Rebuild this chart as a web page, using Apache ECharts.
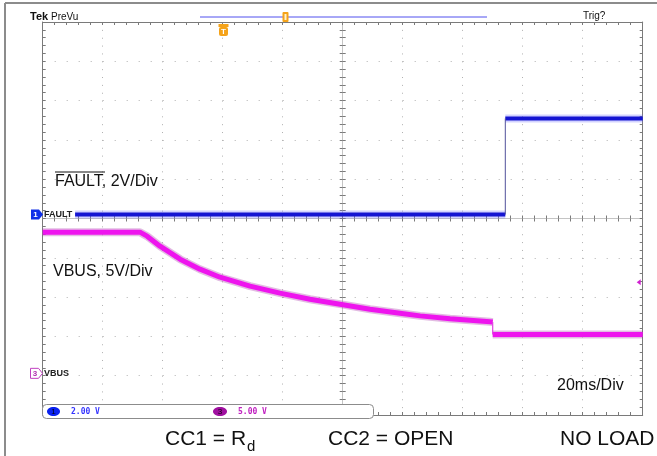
<!DOCTYPE html>
<html><head><meta charset="utf-8">
<script src="https://cdn.jsdelivr.net/npm/echarts@6/dist/echarts.min.js"></script>
<style>html,body{margin:0;padding:0;background:#fff}#c{width:657px;height:456px}</style>
</head><body><div id="c"></div>
<script>
// ---- data (time in ms, values in volts) ----
const faultTime  = [10.8, 154.2, 154.2, 200];
const faultVolts = [0.0, 0.0, 4.89, 4.89];
const vbusTime  = [0, 32.4, 34.8, 39.1, 45.8, 52.4, 59.1, 69.1, 79.1, 89.1, 99.1, 109.1, 119.1, 125.8, 135.8, 149.1, 150.0, 150.0, 200];
const vbusVolts = [17.96, 17.96, 17.45, 16.18, 14.52, 13.25, 12.23, 11.09, 10.2, 9.43, 8.8, 8.16, 7.65, 7.31, 6.95, 6.57, 6.52, 4.94, 4.94];
const faultVoltsPerDiv = 2;
const vbusVoltsPerDiv = 5;
const faultGroundDiv = 0.1;
const vbusGroundDiv = -3.94;
const trigLevelVolts = 11.6;
const timeDivs = [0, 200, 20];   // 20 ms/div, 10 divisions
const vertDivs = [-5, 5, 1];

const FONT = '"Liberation Sans", Arial, Helvetica, sans-serif';
const MONO = '"DejaVu Sans Mono", "Liberation Mono", monospace';
function toDiv(v, off, sc) { return off + v / sc; }
function buildTrace(ts, vs, off, sc) {
  const band = [], edges = [];
  for (let i = 0; i < ts.length; i++) {
    const y = toDiv(vs[i], off, sc);
    if (i > 0 && ts[i] === ts[i - 1]) {
      band.push([ts[i], '-']);
      edges.push([ts[i - 1], toDiv(vs[i - 1], off, sc)], [ts[i], y]);
    }
    band.push([ts[i], y]);
  }
  return { band, edges };
}
const fault = buildTrace(faultTime, faultVolts, faultGroundDiv, faultVoltsPerDiv);
const vbus = buildTrace(vbusTime, vbusVolts, vbusGroundDiv, vbusVoltsPerDiv);

const edgeCol = '#7a7a7a';
function xAx(extra) {
  return Object.assign({
    type: 'value', min: timeDivs[0], max: timeDivs[1], interval: timeDivs[2],
    axisLabel: { show: false }, splitLine: { show: false },
    axisLine: { show: true, onZero: false, lineStyle: { color: edgeCol, width: 1 } },
    axisTick: { show: true, inside: true, length: 3, lineStyle: { color: edgeCol } },
    minorTick: { show: true, splitNumber: 5, length: 3, lineStyle: { color: edgeCol } }
  }, extra);
}
function yAx(extra) {
  return Object.assign({
    type: 'value', min: vertDivs[0], max: vertDivs[1], interval: vertDivs[2],
    axisLabel: { show: false }, splitLine: { show: false },
    axisLine: { show: true, onZero: false, lineStyle: { color: edgeCol, width: 1 } },
    axisTick: { show: true, inside: true, length: 3, lineStyle: { color: edgeCol } },
    minorTick: { show: true, splitNumber: 5, length: 3, lineStyle: { color: edgeCol } }
  }, extra);
}
const centerLine = { color: '#c4c4c4', width: 1 };

const chart = echarts.init(document.getElementById('c'), null, { renderer: 'canvas' });
const option = {
  animation: false,
  backgroundColor: '#fff',
  grid: { left: 42.7, top: 22, width: 600, height: 393 },
  xAxis: [
    xAx({ position: 'bottom', splitLine: { show: true, lineStyle: { color: '#b0b0b0', width: 1, type: [1, 6.86] } } }),
    xAx({ position: 'top' }),
    xAx({ position: 'bottom', axisLine: { show: true, onZero: true, onZeroAxisIndex: 0, lineStyle: centerLine } }),
    xAx({ position: 'bottom', axisLine: { show: true, onZero: true, onZeroAxisIndex: 0, lineStyle: centerLine },
          axisTick: { show: true, inside: false, length: 3, lineStyle: { color: edgeCol } } }),
    { type: 'value', min: -100, max: 100, show: false }
  ],
  yAxis: [
    yAx({ position: 'left', splitLine: { show: true, lineStyle: { color: '#b0b0b0', width: 1, type: [1, 11] } } }),
    yAx({ position: 'right' }),
    yAx({ position: 'left', axisLine: { show: true, onZero: true, onZeroAxisIndex: 4, lineStyle: centerLine } }),
    yAx({ position: 'left', axisLine: { show: true, onZero: true, onZeroAxisIndex: 4, lineStyle: centerLine },
          axisTick: { show: true, inside: false, length: 3, lineStyle: { color: edgeCol } } })
  ],
  series: [
    { type: 'line', data: vbus.band, symbol: 'none', silent: true, z: 3,
      lineStyle: { color: '#a020a0', width: 8, opacity: 0.3 } },
    { type: 'line', data: vbus.band, symbol: 'none', silent: true, z: 4,
      lineStyle: { color: '#ee14ee', width: 5 } },
    { type: 'line', data: vbus.edges, symbol: 'none', silent: true, z: 4,
      lineStyle: { color: '#e040e0', width: 1.2 } },
    { type: 'line', data: fault.band, symbol: 'none', silent: true, z: 5,
      lineStyle: { color: '#6a6aff', width: 8, opacity: 0.3 } },
    { type: 'line', data: fault.band, symbol: 'none', silent: true, z: 6,
      lineStyle: { color: '#1414d2', width: 4 } },
    { type: 'line', data: fault.edges, symbol: 'none', silent: true, z: 6,
      lineStyle: { color: '#50509a', width: 1 } }
  ]
};
chart.setOption(option);

const yF = chart.convertToPixel({ yAxisIndex: 0 }, faultGroundDiv);
const yV = chart.convertToPixel({ yAxisIndex: 0 }, vbusGroundDiv);
const yT = chart.convertToPixel({ yAxisIndex: 0 }, toDiv(trigLevelVolts, vbusGroundDiv, vbusVoltsPerDiv));
const xR = chart.convertToPixel({ xAxisIndex: 0 }, timeDivs[1]);

function txt(x, y, s, size, opts) {
  opts = opts || {};
  return { type: 'text', x: x, y: y, z: 30,
    style: Object.assign({ text: s, font: (opts.weight ? opts.weight + ' ' : '') + size + 'px ' + (opts.family || FONT),
      fill: '#111', verticalAlign: 'middle' }, opts.style) };
}
const g = [
  // frame
  { type: 'line', shape: { x1: 5, y1: 3, x2: 657, y2: 3 }, style: { stroke: '#8c8c8c', lineWidth: 2 }, z: 20 },
  { type: 'line', shape: { x1: 5, y1: 3, x2: 5, y2: 456 }, style: { stroke: '#8c8c8c', lineWidth: 2 }, z: 20 },
  // top status bar
  txt(30, 17, 'Tek', 11, { weight: 'bold' }),
  txt(51, 17, 'PreVu', 10),
  txt(583, 16.5, 'Trig?', 10),
  { type: 'line', shape: { x1: 200, y1: 17, x2: 487, y2: 17 }, style: { stroke: '#5050ee', lineWidth: 1 }, z: 20 },
  { type: 'rect', shape: { x: 282.5, y: 12, width: 6, height: 10, r: 1 }, style: { fill: '#f5a31a' }, z: 21 },
  { type: 'rect', shape: { x: 284.5, y: 14, width: 2, height: 6 }, style: { fill: '#fff3d0' }, z: 22 },
  { type: 'rect', shape: { x: 218.5, y: 24, width: 10, height: 3 }, style: { fill: '#f5a31a' }, z: 21 },
  { type: 'rect', shape: { x: 219, y: 27, width: 9, height: 9, r: 2 }, style: { fill: '#f5a31a' }, z: 21 },
  txt(223.5, 31.5, 'T', 8, { weight: 'bold', style: { fill: '#fff', align: 'center' } }),
  // annotations
  txt(55, 182, 'FAULT, 2V/Div', 16, { style: { letterSpacing: 0.3 } }),
  { type: 'line', shape: { x1: 55, y1: 172, x2: 105, y2: 172 }, style: { stroke: '#111', lineWidth: 1.2 }, z: 20 },
  txt(53, 271.5, 'VBUS, 5V/Div', 16),
  txt(557, 386, '20ms/Div', 16),
  txt(165, 439, 'CC1 = R', 21),
  txt(247, 447, 'd', 15),
  txt(328, 439, 'CC2 = OPEN', 21),
  txt(560, 439, 'NO LOAD', 21),
  // channel ground markers
  { type: 'polygon', shape: { points: [[31, yF - 5], [39, yF - 5], [43, yF], [39, yF + 5], [31, yF + 5]] }, style: { fill: '#1030e8' }, z: 21 },
  txt(35.5, yF, '1', 8, { weight: 'bold', style: { fill: '#fff', align: 'center' } }),
  txt(44, yF, 'FAULT', 9, { weight: 'bold', style: { fill: '#222' } }),
  { type: 'polygon', shape: { points: [[30.5, yV - 5], [38.5, yV - 5], [42.5, yV], [38.5, yV + 5], [30.5, yV + 5]] }, style: { fill: '#fff', stroke: '#c040c0', lineWidth: 1 }, z: 21 },
  txt(35, yV, '3', 8, { weight: 'bold', style: { fill: '#b030b0', align: 'center' } }),
  txt(44, yV, 'VBUS', 9, { weight: 'bold', style: { fill: '#222' } }),
  { type: 'polygon', shape: { points: [[xR - 2, yT - 3], [xR - 2, yT + 3], [xR - 6, yT]] }, style: { fill: '#d020d0' }, z: 21 },
  // readout box
  { type: 'rect', shape: { x: 42.5, y: 404.5, width: 331, height: 14, r: 4 }, style: { fill: '#fff', stroke: '#8c8c8c', lineWidth: 1 }, z: 20 },
  { type: 'ellipse', shape: { cx: 53.5, cy: 411.5, rx: 6.5, ry: 4.5 }, style: { fill: '#0a22f0' }, z: 21 },
  txt(53.5, 411.5, '1', 8, { style: { fill: '#001', align: 'center' } }),
  txt(71, 411.5, '2.00 V', 8, { weight: 'bold', family: MONO, style: { fill: '#3535ff' } }),
  { type: 'ellipse', shape: { cx: 220, cy: 411.5, rx: 7, ry: 4.5 }, style: { fill: '#a010a0' }, z: 21 },
  txt(220, 411.5, '3', 8, { style: { fill: '#100010', align: 'center' } }),
  txt(238, 411.5, '5.00 V', 8, { weight: 'bold', family: MONO, style: { fill: '#c020c0' } })
];
chart.setOption({ graphic: g });
</script></body></html>
